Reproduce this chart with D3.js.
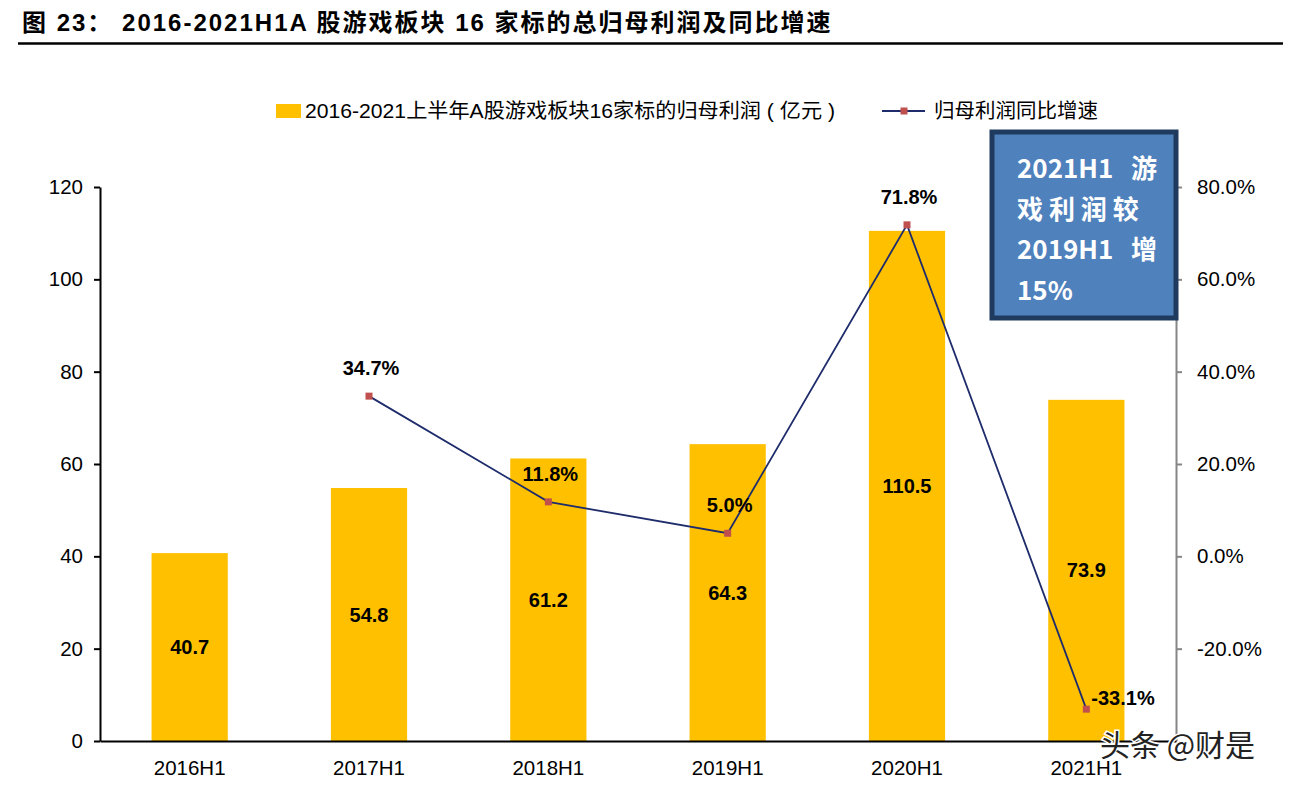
<!DOCTYPE html>
<html>
<head>
<meta charset="utf-8">
<script src="https://cdn.jsdelivr.net/npm/d3@7"></script>
<style>
  body { margin: 0; background: #fff; }
  svg { font-family: "Liberation Sans", Arial, "Noto Sans CJK SC", sans-serif; }
</style>
</head>
<body>
<div id="chart"></div>
<script>
// data
var years = ["2016H1", "2017H1", "2018H1", "2019H1", "2020H1", "2021H1"];
var profit = [40.7, 54.8, 61.2, 64.3, 110.5, 73.9];
var growth = [null, 34.7, 11.8, 5.0, 71.8, -33.1];
var leftTicks = [0, 20, 40, 60, 80, 100, 120];
var rightTicks = [-20, 0, 20, 40, 60, 80];

var titleText = "图 23： 2016-2021H1A 股游戏板块 16 家标的总归母利润及同比增速";
var barName = "2016-2021上半年A股游戏板块16家标的归母利润 ( 亿元 )";
var lineName = "归母利润同比增速";
var boxLines = ["2021H1   游", "戏 利 润 较", "2019H1   增", "15%"];

var w = 1296, h = 786;
var plotLeft = 100, plotRight = 1176, plotTop = 187, plotBottom = 741;

var svg = d3.select("#chart").append("svg")
  .attr("width", w)
  .attr("height", h);

// scales
var x = d3.scaleBand().domain(years).range([plotLeft, plotRight]).paddingInner(0.575).paddingOuter(0.2875);
var y = d3.scaleLinear().domain([0, 120]).range([plotBottom, plotTop]);
var y2 = d3.scaleLinear().domain([-40, 80]).range([plotBottom, plotTop]);

// title
svg.append("text")
  .attr("x", 22)
  .attr("y", 31)
  .style("font", "bold 24px 'Liberation Sans', 'Noto Sans CJK SC', sans-serif")
  .style("letter-spacing", "2px")
  .style("white-space", "pre")
  .text(titleText);

svg.append("line")
  .attr("x1", 18).attr("x2", 1283)
  .attr("y1", 43.5).attr("y2", 43.5)
  .attr("stroke", "#000")
  .attr("stroke-width", 2.5);

// bars
svg.selectAll(".bar")
  .data(years)
  .enter().append("rect")
  .attr("class", "bar")
  .attr("x", function(d) { return x(d); })
  .attr("y", function(d, i) { return y(profit[i]); })
  .attr("width", x.bandwidth())
  .attr("height", function(d, i) { return y(0) - y(profit[i]); })
  .attr("fill", "#FFC000");

// bar value labels
svg.selectAll(".barlabel")
  .data(years)
  .enter().append("text")
  .attr("x", function(d) { return x(d) + x.bandwidth() / 2; })
  .attr("y", function(d, i) { return (y(profit[i]) + y(0)) / 2; })
  .attr("dy", "0.35em")
  .attr("text-anchor", "middle")
  .style("font", "bold 20px 'Liberation Sans', sans-serif")
  .text(function(d, i) { return profit[i].toFixed(1); });

// left axis
var yAxis = svg.append("g")
  .attr("transform", "translate(" + plotLeft + ",0)")
  .call(d3.axisLeft(y).tickValues(leftTicks).tickSize(6).tickSizeOuter(0));
yAxis.select(".domain").attr("stroke", "#000").attr("stroke-width", 2);
yAxis.selectAll(".tick line").attr("stroke", "#000").attr("stroke-width", 2);
yAxis.selectAll("text")
  .attr("x", -17)
  .style("font-size", "20.5px")
  .style("font-family", "'Liberation Sans', sans-serif")
  .attr("fill", "#000");

// right axis
var yAxis2 = svg.append("g")
  .attr("transform", "translate(" + plotRight + ",0)")
  .call(d3.axisRight(y2).tickValues(rightTicks).tickSize(6).tickSizeOuter(0)
    .tickFormat(function(d) { return d.toFixed(1) + "%"; }));
yAxis2.select(".domain").attr("stroke", "#868686").attr("stroke-width", 2);
yAxis2.selectAll(".tick line").attr("stroke", "#868686").attr("stroke-width", 2);
yAxis2.selectAll("text")
  .attr("x", 21)
  .style("font-size", "20.5px")
  .style("font-family", "'Liberation Sans', sans-serif")
  .attr("fill", "#000");

// x axis
var xAxis = svg.append("g")
  .attr("transform", "translate(0," + plotBottom + ")")
  .call(d3.axisBottom(x).tickSize(0).tickSizeOuter(0));
xAxis.select(".domain").attr("stroke", "#000").attr("stroke-width", 2);
xAxis.selectAll("text")
  .attr("y", 19)
  .style("font-size", "20.5px")
  .style("font-family", "'Liberation Sans', sans-serif")
  .attr("fill", "#000");

// growth line
var pts = years.map(function(d, i) { return {year: d, v: growth[i]}; })
  .filter(function(d) { return d.v !== null; });

var line = d3.line()
  .x(function(d) { return x(d.year) + x.bandwidth() / 2; })
  .y(function(d) { return y2(d.v); });

svg.append("path")
  .datum(pts)
  .attr("d", line)
  .attr("fill", "none")
  .attr("stroke", "#1F2C6B")
  .attr("stroke-width", 1.8);

svg.selectAll(".marker")
  .data(pts)
  .enter().append("rect")
  .attr("x", function(d) { return x(d.year) + x.bandwidth() / 2 - 3.5; })
  .attr("y", function(d) { return y2(d.v) - 3.5; })
  .attr("width", 7)
  .attr("height", 7)
  .attr("fill", "#C0504D");

// growth labels
svg.selectAll(".glabel")
  .data(pts)
  .enter().append("text")
  .attr("x", function(d) { return x(d.year) + x.bandwidth() / 2 + (d.v < 0 ? 5 : 2); })
  .attr("y", function(d) { return y2(d.v) + (d.v < 0 ? -4 : -21); })
  .attr("text-anchor", function(d) { return d.v < 0 ? "start" : "middle"; })
  .style("font", "bold 20px 'Liberation Sans', sans-serif")
  .text(function(d) { return d.v.toFixed(1) + "%"; });

// legend
svg.append("rect")
  .attr("x", 276).attr("y", 104)
  .attr("width", 25).attr("height", 14)
  .attr("fill", "#FFC000");
svg.append("text")
  .attr("x", 305).attr("y", 111)
  .attr("dy", "0.35em")
  .attr("textLength", 530)
  .attr("lengthAdjust", "spacingAndGlyphs")
  .style("font", "20px 'Liberation Sans', 'Noto Sans CJK SC', sans-serif")
  .text(barName);

svg.append("line")
  .attr("x1", 882).attr("x2", 925)
  .attr("y1", 111).attr("y2", 111)
  .attr("stroke", "#1F2C6B").attr("stroke-width", 2);
svg.append("rect")
  .attr("x", 900.5).attr("y", 107.5)
  .attr("width", 7).attr("height", 7)
  .attr("fill", "#C0504D");
svg.append("text")
  .attr("x", 934).attr("y", 111)
  .attr("dy", "0.35em")
  .style("font", "20.5px 'Noto Sans CJK SC', sans-serif")
  .text(lineName);

// annotation box
svg.append("rect")
  .attr("x", 992).attr("y", 132)
  .attr("width", 184).attr("height", 186)
  .attr("fill", "#4F81BD")
  .attr("stroke", "#1F3A5F")
  .attr("stroke-width", 5);

svg.selectAll(".boxline")
  .data(boxLines)
  .enter().append("text")
  .attr("x", 1017)
  .attr("y", function(d, i) { return 178 + i * 40.5; })
  .attr("fill", "#fff")
  .style("font", "bold 26px 'Noto Sans CJK SC', sans-serif")
  .style("white-space", "pre")
  .attr("xml:space", "preserve")
  .text(function(d) { return d; });

// watermark
svg.append("text")
  .attr("x", 1100).attr("y", 756)
  .attr("fill", "#222")
  .attr("stroke", "#fff")
  .attr("stroke-width", 3)
  .attr("paint-order", "stroke")
  .style("font", "30px 'Noto Sans CJK SC', sans-serif")
  .text("头条 @财是");
</script>
</body>
</html>
